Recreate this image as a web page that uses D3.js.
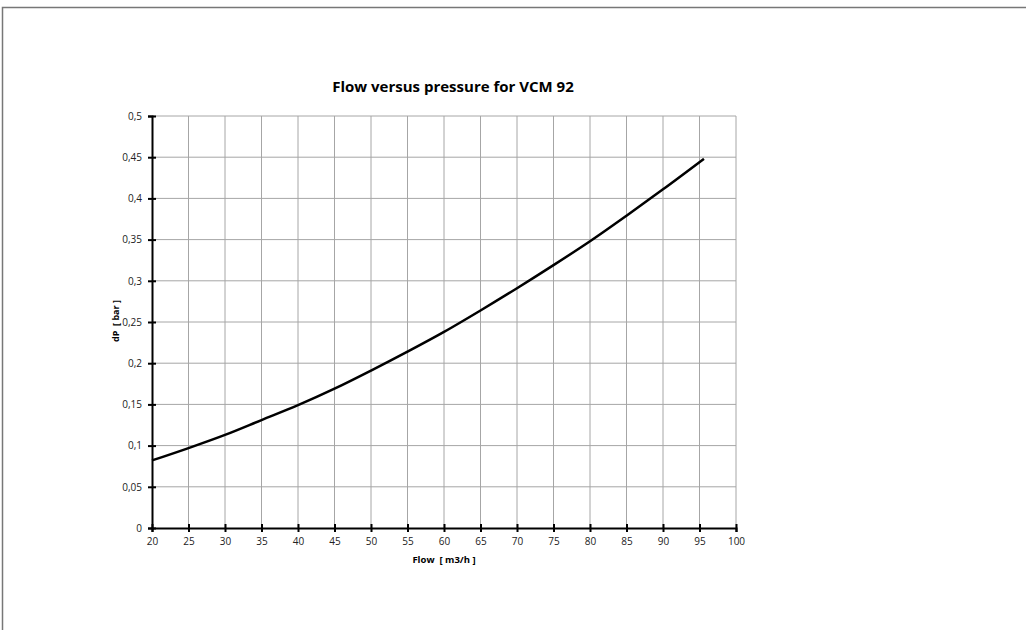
<!DOCTYPE html>
<html>
<head>
<meta charset="utf-8">
<script src="https://cdn.jsdelivr.net/npm/d3@7"></script>
<style>
  body { margin: 0; background: #fff; }
  text { font-family: "Open Sans", "Noto Sans", sans-serif; }
</style>
</head>
<body>
<div id="chart"></div>
<script>
// flow [m3/h] and pressure drop [bar]
var flow = [20, 25, 30, 35, 40, 45, 50, 55, 60, 65, 70, 75, 80, 85, 90, 95.6];
var dP = [0.082, 0.097, 0.113, 0.131, 0.149, 0.169, 0.191, 0.214, 0.238, 0.264, 0.291, 0.319, 0.348, 0.379, 0.411, 0.448];

var xTicks = d3.range(20, 101, 5);
var yTicks = d3.range(0, 0.501, 0.05);

var svgWidth = 1026, svgHeight = 630;
var margin = { top: 116, left: 152, right: 1026 - 736, bottom: 630 - 528 };
var width = svgWidth - margin.left - margin.right;
var height = svgHeight - margin.top - margin.bottom;

var svg = d3.select('#chart').append('svg')
    .attr('width', svgWidth)
    .attr('height', svgHeight);

// outer chart border (only top and left visible in the frame)
svg.append('path')
    .attr('d', 'M2.5,630 L2.5,7.5 L1026,7.5')
    .attr('fill', 'none')
    .attr('stroke', '#777')
    .attr('stroke-width', 1.5);

var chartGroup = svg.append('g')
    .attr('transform', `translate(${margin.left}, ${margin.top})`);

var x = d3.scaleLinear().domain([20, 100]).range([0, width]);
var y = d3.scaleLinear().domain([0, 0.5]).range([height, 0]);

// gridlines
chartGroup.append('g').selectAll('line')
    .data(xTicks.slice(1))
    .enter().append('line')
    .attr('x1', d => x(d)).attr('x2', d => x(d))
    .attr('y1', 0).attr('y2', height)
    .attr('stroke', '#a6a6a6').attr('stroke-width', 1);

chartGroup.append('g').selectAll('line')
    .data(yTicks.slice(1))
    .enter().append('line')
    .attr('x1', 0).attr('x2', width)
    .attr('y1', d => y(d)).attr('y2', d => y(d))
    .attr('stroke', '#a6a6a6').attr('stroke-width', 1);

var fmt = d => d3.format('~g')(+d.toFixed(2)).replace('.', ',');

// axes, with ticks crossing the axis line
var bottomAxis = d3.axisBottom(x).tickValues(xTicks).tickSize(4).tickPadding(6).tickFormat(d => d);
var leftAxis = d3.axisLeft(y).tickValues(yTicks).tickSize(4).tickPadding(6).tickFormat(fmt);

var xg = chartGroup.append('g')
    .attr('transform', `translate(0, ${height})`)
    .call(bottomAxis);
var yg = chartGroup.append('g').call(leftAxis);

[xg, yg].forEach(g => {
    g.select('.domain').attr('stroke', '#000').attr('stroke-width', 2);
    g.selectAll('.tick text').attr('font-size', '10px').attr('fill', '#222')
        .style('font-family', '"Open Sans", sans-serif');
    g.selectAll('.tick line').attr('stroke', '#000').attr('stroke-width', 2);
});
xg.selectAll('.tick line').attr('y1', -4);
yg.selectAll('.tick line').attr('x1', 4);

// curve
var line = d3.line()
    .x((d, i) => x(flow[i]))
    .y(d => y(d))
    .curve(d3.curveMonotoneX);

chartGroup.append('path')
    .datum(dP)
    .attr('d', line)
    .attr('fill', 'none')
    .attr('stroke', '#000')
    .attr('stroke-width', 2.5);

// title and axis labels
svg.append('text')
    .attr('x', 453).attr('y', 92)
    .attr('text-anchor', 'middle')
    .attr('font-size', '15px')
    .attr('font-weight', 'bold')
    .text('Flow versus pressure for VCM 92');

svg.append('text')
    .attr('transform', 'translate(119, 321) rotate(-90)')
    .attr('text-anchor', 'middle')
    .attr('font-size', '9px')
    .attr('font-weight', 'bold')
    .attr('xml:space', 'preserve')
    .text('dP  [ bar ]');

svg.append('text')
    .attr('x', 444).attr('y', 563)
    .attr('text-anchor', 'middle')
    .attr('font-size', '9.5px')
    .attr('font-weight', 'bold')
    .attr('xml:space', 'preserve')
    .text('Flow  [ m3/h ]');
</script>
</body>
</html>
